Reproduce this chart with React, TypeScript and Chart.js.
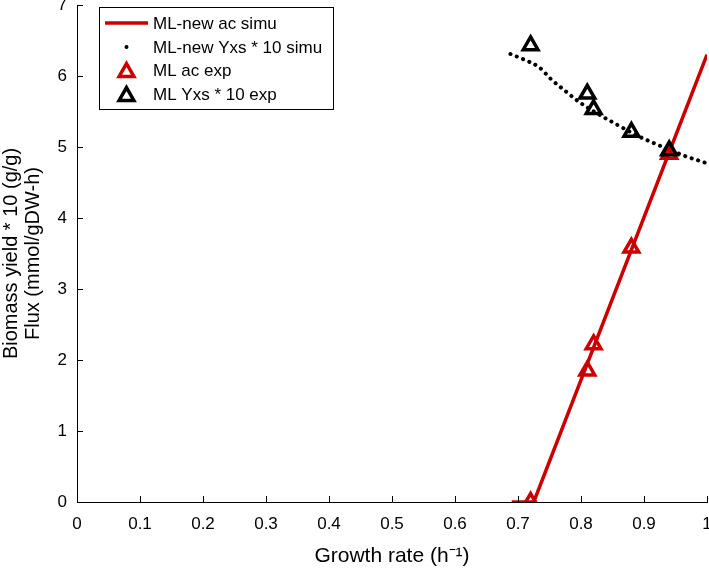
import React, { useEffect, useRef } from "react";
import { Chart, registerables } from "chart.js";

Chart.register(...registerables);

// ---- Data ----
const acSimuX = [0.69, 0.725, 1.0];
const acSimuY = [0, 0, 6.3];

const yxsSimuX = [0.688, 0.71, 0.734, 0.753, 0.775, 0.796, 0.83, 0.854, 0.894, 0.917, 0.96, 1.0];
const yxsSimuY = [6.31, 6.23, 6.12, 5.95, 5.79, 5.64, 5.45, 5.33, 5.14, 5.05, 4.89, 4.77];

const acExpX = [0.72, 0.81, 0.82, 0.88, 0.94];
const acExpY = [0, 1.85, 2.22, 3.58, 4.9];

const yxsExpX = [0.72, 0.81, 0.82, 0.88, 0.94];
const yxsExpY = [6.43, 5.75, 5.53, 5.21, 4.95];

const xTickLabels = ["0", "0.1", "0.2", "0.3", "0.4", "0.5", "0.6", "0.7", "0.8", "0.9", "1"];
const yTickLabels = ["0", "1", "2", "3", "4", "5", "6", "7"];

const legendLabels = ["ML-new ac simu", "ML-new Yxs * 10 simu", "ML ac exp", "ML Yxs * 10 exp"];

const RED = "#cc0000";
const FONT = "'Liberation Sans', Arial, sans-serif";
const TRI_R = 8.5;
const TRI_W = 3.5;

const zip = (xs: number[], ys: number[]) => xs.map((x, i) => ({ x, y: ys[i] }));

function drawTriangle(ctx: CanvasRenderingContext2D, x: number, y: number, r: number, color: string) {
  ctx.save();
  ctx.beginPath();
  ctx.moveTo(x, y - r);
  ctx.lineTo(x + 0.866 * r, y + 0.5 * r);
  ctx.lineTo(x - 0.866 * r, y + 0.5 * r);
  ctx.closePath();
  ctx.lineWidth = TRI_W;
  ctx.strokeStyle = color;
  ctx.lineJoin = "miter";
  ctx.stroke();
  ctx.restore();
}

const extrasPlugin = {
  id: "extras",
  afterDraw(chart: any) {
    const ctx: CanvasRenderingContext2D = chart.ctx;
    const { left, bottom } = chart.chartArea;
    const xs = chart.scales.x;
    const ys = chart.scales.y;
    // inward ticks
    ctx.save();
    ctx.strokeStyle = "#000";
    ctx.lineWidth = 1;
    ctx.beginPath();
    xTickLabels.forEach((_, i) => {
      const px = Math.round(xs.getPixelForValue(i / 10)) + 0.5;
      ctx.moveTo(px, bottom);
      ctx.lineTo(px, bottom - 6);
    });
    yTickLabels.forEach((_, i) => {
      const py = Math.round(ys.getPixelForValue(i)) + 0.5;
      ctx.moveTo(left, py);
      ctx.lineTo(left + 6, py);
    });
    ctx.stroke();
    ctx.restore();

    // legend
    ctx.save();
    const bx = 99.5, by = 7.5, bw = 234, bh = 102;
    ctx.fillStyle = "#fff";
    ctx.fillRect(bx, by, bw, bh);
    ctx.strokeStyle = "#000";
    ctx.lineWidth = 1;
    ctx.strokeRect(bx, by, bw, bh);
    const rows = [23, 47, 70, 94];
    const sx = 126.5;
    ctx.strokeStyle = RED;
    ctx.lineWidth = 3.5;
    ctx.beginPath();
    ctx.moveTo(105, rows[0]);
    ctx.lineTo(148, rows[0]);
    ctx.stroke();
    ctx.fillStyle = "#000";
    ctx.beginPath();
    ctx.arc(sx, rows[1], 2, 0, Math.PI * 2);
    ctx.fill();
    drawTriangle(ctx, sx, rows[2] + TRI_R * 0.25, TRI_R, RED);
    drawTriangle(ctx, sx, rows[3] + TRI_R * 0.25, TRI_R, "#000");
    ctx.fillStyle = "#000";
    ctx.font = `17px ${FONT}`;
    ctx.textBaseline = "middle";
    ctx.textAlign = "left";
    legendLabels.forEach((t, i) => ctx.fillText(t, 153, rows[i] + 1));
    ctx.restore();
  },
};

export default function App() {
  const ref = useRef<HTMLCanvasElement>(null);
  useEffect(() => {
    if (!ref.current) return;
    const chart = new Chart(ref.current, {
      type: "scatter",
      data: {
        datasets: [
          {
            label: legendLabels[3],
            data: zip(yxsExpX, yxsExpY),
            pointStyle: "triangle",
            pointRadius: TRI_R,
            pointHoverRadius: TRI_R,
            pointBorderWidth: TRI_W,
            borderColor: "#000",
            backgroundColor: "rgba(0,0,0,0)",
            showLine: false,
            order: 0,
          },
          {
            label: legendLabels[2],
            data: zip(acExpX, acExpY),
            pointStyle: "triangle",
            pointRadius: TRI_R,
            pointHoverRadius: TRI_R,
            pointBorderWidth: TRI_W,
            borderColor: RED,
            backgroundColor: "rgba(0,0,0,0)",
            showLine: false,
            order: 1,
          },
          {
            label: legendLabels[1],
            data: zip(yxsSimuX, yxsSimuY),
            showLine: true,
            pointRadius: 0,
            borderColor: "#000",
            borderWidth: 4,
            borderDash: [0.1, 6.7],
            borderCapStyle: "round",
            cubicInterpolationMode: "monotone",
            order: 2,
          },
          {
            label: legendLabels[0],
            data: zip(acSimuX, acSimuY),
            showLine: true,
            pointRadius: 0,
            borderColor: RED,
            borderWidth: 3.5,
            order: 3,
          },
        ],
      },
      options: {
        responsive: false,
        animation: false,
        layout: { autoPadding: false, padding: { top: 5, right: 2, left: 0, bottom: 0 } },
        plugins: { legend: { display: false }, tooltip: { enabled: false } },
        scales: {
          x: {
            type: "linear",
            min: 0,
            max: 1,
            ticks: {
              stepSize: 0.1,
              padding: 12,
              maxRotation: 0,
              autoSkip: false,
              color: "#000",
              font: { family: FONT, size: 17 },
              callback: (_v: any, i: number) => xTickLabels[i],
            },
            grid: { display: false, drawTicks: false },
            border: { display: true, color: "#000", width: 1 },
            title: {
              display: true,
              text: "Growth rate (h\u207B\u00B9)",
              color: "#000",
              font: { family: FONT, size: 21 },
              padding: 0,
            },
            afterFit: (s: any) => {
              s.height = 67;
              s.paddingLeft = 0;
              s.paddingRight = 0;
            },
          },
          y: {
            type: "linear",
            min: 0,
            max: 7,
            ticks: {
              stepSize: 1,
              padding: 10,
              color: "#000",
              font: { family: FONT, size: 17 },
              callback: (_v: any, i: number) => yTickLabels[i],
            },
            grid: { display: false, drawTicks: false },
            border: { display: true, color: "#000", width: 1 },
            title: {
              display: true,
              text: ["Biomass yield * 10 (g/g)", "Flux (mmol/gDW-h)"],
              color: "#000",
              font: { family: FONT, size: 20, lineHeight: 1.1 },
              padding: 0,
            },
            afterFit: (s: any) => {
              s.width = 77;
              s.paddingTop = 0;
              s.paddingBottom = 0;
            },
          },
        },
      },
      plugins: [extrasPlugin],
    } as any);
    return () => chart.destroy();
  }, []);

  return (
    <div style={{ position: "fixed", left: 0, top: 0, width: 709, height: 569, background: "#fff" }}>
      <canvas ref={ref} width={709} height={569} style={{ display: "block" }} />
    </div>
  );
}
